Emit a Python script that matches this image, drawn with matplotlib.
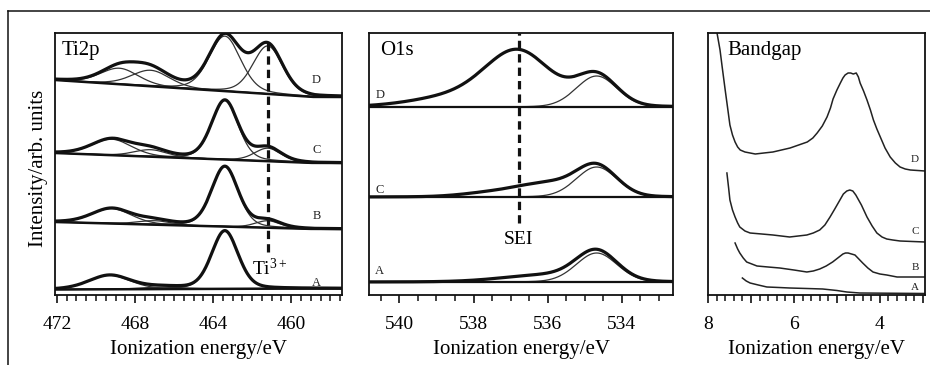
import numpy as np
import matplotlib
matplotlib.use("Agg")
import matplotlib.pyplot as plt
from matplotlib.lines import Line2D
from matplotlib.ticker import MultipleLocator, FuncFormatter

plt.rcParams['font.family'] = ['Liberation Serif', 'DejaVu Serif']
plt.rcParams['mathtext.fontset'] = 'custom'
plt.rcParams['mathtext.rm'] = 'Liberation Serif'
plt.rcParams['mathtext.it'] = 'Liberation Serif:italic'
plt.rcParams['mathtext.bf'] = 'Liberation Serif:bold'

# ---------------- Ti2p panel data (energy in eV, intensity arb. units) ----------------
ti_letters = ["D", "C", "B", "A"]
ti_bg_energy = [457.4, 458.8, 472.1]
ti_bg_D = [198, 198, 215]
ti_bg_C = [132, 132, 142]
ti_bg_B = [66, 66, 73]
ti_bg_A = [6.5, 6.5, 5.5]

ti_centers_D = [468.8, 467.2, 463.4, 461.2]
ti_heights_D = [16, 16, 55, 48]
ti_fwhm_D = [2.3, 2.3, 1.9, 1.8]

ti_centers_C = [469.2, 467.2, 463.4, 461.2]
ti_heights_C = [16, 7, 59, 13]
ti_fwhm_C = [2.4, 2.0, 1.6, 1.6]

ti_centers_B = [469.2, 467.0, 463.4, 461.2]
ti_heights_B = [15, 4, 60, 7]
ti_fwhm_B = [2.4, 2.0, 1.6, 1.5]

ti_centers_A = [469.3, 466.6, 463.4]
ti_heights_A = [14, 2, 58]
ti_fwhm_A = [2.5, 2.4, 1.6]

ti3_energy = 461.2

# ---------------- O1s panel data ----------------
o_letters = ["D", "C", "A"]
o_base_D = 188
o_base_C = 98
o_base_A = 13

o_fit_centers = [534.68]
o_fit_heights_D = [31]
o_fit_heights_C = [30]
o_fit_heights_A = [29]
o_fit_fwhm = [1.3]

o_sei_centers_D = [536.8, 538.6]
o_sei_heights_D = [55, 9]
o_sei_fwhm_D = [2.1, 2.6]

o_sei_centers_C = [536.0, 537.5]
o_sei_heights_C = [13, 4]
o_sei_fwhm_C = [1.9, 1.9]

o_sei_centers_A = [536.0]
o_sei_heights_A = [7]
o_sei_fwhm_A = [2.8]

sei_energy = 536.78

# ---------------- Bandgap panel data ----------------
bg_letters = ["D", "C", "B", "A"]
bd_E = [7.79, 7.72, 7.67, 7.60, 7.54, 7.49, 7.43, 7.37, 7.31, 7.25, 7.14, 7.02, 6.90, 6.70,
        6.49, 6.29, 6.09, 5.89, 5.69, 5.56, 5.46, 5.34, 5.23, 5.15, 5.09, 5.00, 4.92, 4.86,
        4.81, 4.74, 4.68, 4.62, 4.55, 4.50, 4.46, 4.38, 4.30, 4.22, 4.15, 4.07, 3.99, 3.88,
        3.76, 3.64, 3.53, 3.41, 3.29, 2.95]
bd_I = [262, 245, 228, 205, 186, 170, 160, 153, 148, 145, 143, 142, 141, 142,
        143, 145, 147, 150, 153, 157, 162, 169, 178, 187, 196, 205, 212, 217,
        220, 222, 222, 221, 222, 218, 212, 204, 195, 185, 175, 166, 158, 147,
        138, 132, 128, 126, 125, 124]
bc_E = [7.56, 7.52, 7.49, 7.43, 7.37, 7.31, 7.26, 7.14, 7.02, 6.75, 6.49, 6.10, 5.70, 5.55,
        5.40, 5.28, 5.16, 5.05, 4.93, 4.85, 4.77, 4.70, 4.63, 4.56, 4.43, 4.30, 4.18, 4.07,
        3.95, 3.84, 3.70, 3.53, 2.95]
bc_I = [122, 107, 95, 85, 78, 72, 68, 64, 62, 61, 60, 58, 60, 62,
        65, 70, 78, 86, 95, 101, 104, 105, 104, 100, 90, 78, 69, 62,
        58, 56, 55, 54, 53]
bb_E = [7.37, 7.31, 7.26, 7.18, 7.10, 6.98, 6.86, 6.60, 6.33, 6.00, 5.70, 5.55, 5.40, 5.25,
        5.10, 4.98, 4.86, 4.80, 4.74, 4.66, 4.58, 4.49, 4.40, 4.28, 4.16, 4.00, 3.84, 3.60, 2.95]
bb_I = [52, 46, 42, 37, 33, 31, 29, 28, 27, 25, 23, 24, 26, 29,
        33, 37, 41, 42, 42, 41, 40, 36, 32, 27, 23, 21, 20, 18, 18]
ba_E = [7.20, 7.11, 7.02, 6.83, 6.63, 6.35, 6.10, 5.70, 5.33, 5.00, 4.77, 4.47, 2.95]
ba_I = [17, 14, 12, 10, 8, 7.5, 7, 6.5, 6, 4.5, 3, 2, 1.5]

# ---------------- helpers ----------------
def peak(x, c, h, w, eta=0.25):
    g = np.exp(-4 * np.log(2) * (x - c) ** 2 / w ** 2)
    l = 1.0 / (1.0 + 4 * (x - c) ** 2 / w ** 2)
    return h * ((1 - eta) * g + eta * l)

INK = '#111111'
THIN = '#333333'
FS_TICK = 14
FS_LAB = 15

W, H = 930, 365
fig = plt.figure(figsize=(W / 100, H / 100), dpi=100)

def add_axes(left, right, top=33, bottom=295):
    return fig.add_axes([left / W, (H - bottom) / H, (right - left) / W, (bottom - top) / H])

def style(ax):
    for s in ax.spines.values():
        s.set_linewidth(1.3)
        s.set_color(INK)
    ax.set_yticks([])
    ax.tick_params(axis='x', which='major', direction='out', length=6, width=1.2,
                   labelsize=FS_TICK, pad=9, color=INK)
    ax.tick_params(axis='x', which='minor', direction='out', length=4, width=1.1, color=INK)
    ax.set_ylim(0, 262)
    ax.set_xlabel("Ionization energy/eV", fontsize=FS_LAB, labelpad=5)

# outer frame (top and left edges)
fig.add_artist(Line2D([8 / W, 8 / W], [0, (H - 11) / H], transform=fig.transFigure,
                      color=INK, lw=1.1))
fig.add_artist(Line2D([8 / W, 1.0], [(H - 11) / H, (H - 11) / H], transform=fig.transFigure,
                      color=INK, lw=1.1))

# ---------------- Ti2p ----------------
ax1 = add_axes(55, 342)
x1 = np.linspace(457.4, 472.1, 800)
ti_sets = [
    (ti_bg_D, ti_centers_D, ti_heights_D, ti_fwhm_D),
    (ti_bg_C, ti_centers_C, ti_heights_C, ti_fwhm_C),
    (ti_bg_B, ti_centers_B, ti_heights_B, ti_fwhm_B),
    (ti_bg_A, ti_centers_A, ti_heights_A, ti_fwhm_A),
]
ti_letter_y = [215, 145, 79, 12]
for (bgv, cs, hs, ws), lab, ly in zip(ti_sets, ti_letters, ti_letter_y):
    base = np.interp(x1, ti_bg_energy, bgv)
    total = base.copy()
    for c, h, w in zip(cs, hs, ws):
        comp = peak(x1, c, h, w)
        total += comp
        ax1.plot(x1, base + comp, color=THIN, lw=0.9)
    ax1.plot(x1, base, color=INK, lw=1.8)
    ax1.plot(x1, total, color=INK, lw=2.3)
    ax1.text(458.7, ly, lab, fontsize=9, ha='center', va='center', color='#222222')
ax1.plot([ti3_energy, ti3_energy], [43, 257], color=INK, lw=2.3, dashes=(2.6, 1.6))
ax1.text(ti3_energy - 0.1, 27, r"$\mathrm{Ti}^{\mathrm{3+}}$", fontsize=14, ha='center', va='center')
ax1.text(0.024, 0.935, "Ti2p", transform=ax1.transAxes, fontsize=15, ha='left', va='center')
ax1.set_xlim(472.1, 457.4)
ax1.set_xticks([472, 468, 464, 460])
ax1.xaxis.set_minor_locator(MultipleLocator(0.5))
style(ax1)
ax1.set_ylabel("Intensity/arb. units", fontsize=FS_LAB)
ax1.yaxis.set_label_coords(-0.026, 0.485)

# ---------------- O1s ----------------
ax2 = add_axes(369, 673)
x2 = np.linspace(532.62, 540.82, 800)
o_sets = [
    (o_base_D, o_fit_heights_D, o_sei_centers_D, o_sei_heights_D, o_sei_fwhm_D),
    (o_base_C, o_fit_heights_C, o_sei_centers_C, o_sei_heights_C, o_sei_fwhm_C),
    (o_base_A, o_fit_heights_A, o_sei_centers_A, o_sei_heights_A, o_sei_fwhm_A),
]
o_letter_y = [200, 105, 24]
for (b, fh, sc, sh, sw), lab, ly in zip(o_sets, o_letters, o_letter_y):
    base = np.full_like(x2, b, dtype=float)
    total = base.copy()
    for c, h, w in zip(o_fit_centers, fh, o_fit_fwhm):
        comp = peak(x2, c, h, w, eta=0.1)
        total += comp
        ax2.plot(x2, base + comp, color=THIN, lw=0.9)
    for c, h, w in zip(sc, sh, sw):
        total += peak(x2, c, h, w, eta=0.1)
    ax2.plot(x2, base, color=INK, lw=1.6)
    ax2.plot(x2, total, color=INK, lw=2.3)
    ax2.text(540.65, ly, lab, fontsize=9, ha='left', va='center', color='#222222')
ax2.plot([sei_energy, sei_energy], [72, 262], color=INK, lw=2.3, dashes=(2.6, 1.6))
ax2.text(sei_energy, 55, "SEI", fontsize=14, ha='center', va='center')
ax2.text(0.035, 0.935, "O1s", transform=ax2.transAxes, fontsize=15, ha='left', va='center')
ax2.set_xlim(540.82, 532.62)
ax2.set_xticks([540, 538, 536, 534])
ax2.xaxis.set_minor_locator(MultipleLocator(0.5))
style(ax2)

# ---------------- Bandgap ----------------
ax3 = add_axes(708, 925)
b_sets = [(bd_E, bd_I), (bc_E, bc_I), (bb_E, bb_I), (ba_E, ba_I)]
b_letter_y = [135, 63, 28, 8]
for (e, i), lab, ly in zip(b_sets, bg_letters, b_letter_y):
    ax3.plot(e, i, color='#222222', lw=1.1)
    ax3.text(3.18, ly, lab, fontsize=8, ha='center', va='center', color='#222222')
ax3.text(0.09, 0.935, "Bandgap", transform=ax3.transAxes, fontsize=15, ha='left', va='center')
ax3.set_xlim(8.0, 2.95)
ax3.xaxis.set_major_locator(MultipleLocator(1))
ax3.xaxis.set_major_formatter(FuncFormatter(lambda v, p: f"{v:.0f}" if int(round(v)) % 2 == 0 else ""))
ax3.xaxis.set_minor_locator(MultipleLocator(0.2))
style(ax3)

fig.savefig("out.png", dpi=100)
